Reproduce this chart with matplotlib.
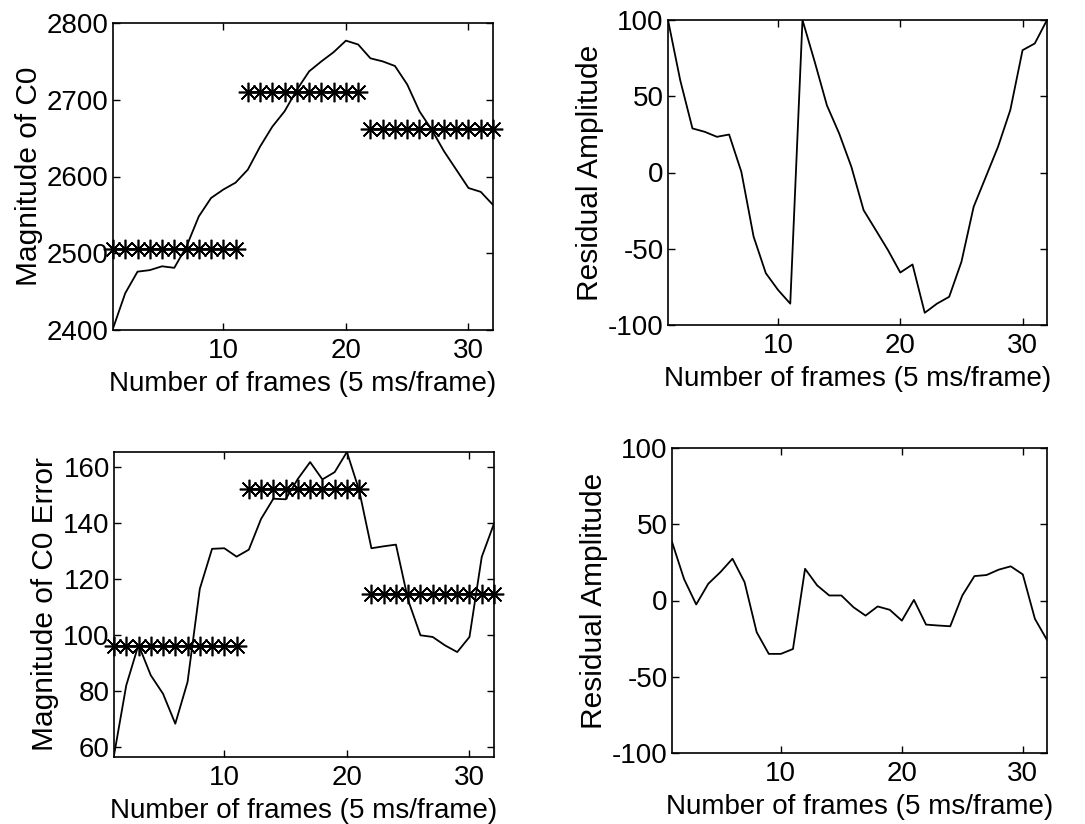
import numpy as np
import matplotlib
matplotlib.use('Agg')
import matplotlib.pyplot as plt

plt.rcParams['font.family'] = ['Liberation Sans', 'DejaVu Sans']
plt.rcParams['axes.unicode_minus'] = False

frames = np.arange(1, 33)

# C0 magnitude and its segment means
c0 = [2402, 2448, 2476, 2478, 2483, 2481, 2509, 2548, 2572, 2583, 2592,
      2609, 2639, 2665, 2685, 2713, 2737, 2750, 2762, 2777, 2772,
      2754, 2750, 2744, 2720, 2685, 2661, 2633, 2609, 2585, 2580, 2563]
c0_means = [2505, 2710, 2662]

# residual of C0
res1 = [100, 60.5, 28.9, 26.7, 23.4, 24.9, 0.4, -42, -66, -77, -86,
        100, 72.6, 44, 25.6, 3.7, -24.7, -37.8, -51, -65.6, -60.3,
        -92, -86, -81.5, -58.6, -22.5, -2.8, 17, 41, 80.2, 84.6, 100]

# C0 error magnitude and its segment means
c0err = [57, 82, 96.5, 85.6, 79, 68.3, 83.2, 116.5, 130.8, 131, 128,
         130.5, 141.5, 148.7, 148.5, 155.8, 161.8, 155.6, 158.2, 165.4, 151.7,
         131, 131.7, 132.3, 112.4, 99.9, 99.3, 96.3, 93.9, 99.3, 127.9, 139.8]
c0err_means = [96, 152, 114.8]

# residual of C0 error
res2 = [38.4, 14, -2.6, 11, 18.6, 27.4, 12, -20.8, -35, -35, -31.8,
        20.8, 9.9, 3.3, 3.3, -4.4, -9.9, -3.9, -6.1, -13.2, 0.4,
        -15.8, -16.4, -16.9, 3.3, 16, 16.7, 20.2, 22.4, 17.1, -12, -25.9]

segments = [(1, 11), (12, 21), (22, 32)]

W, H = 1085, 824
fig = plt.figure(figsize=(W / 100, H / 100), dpi=100)

def box(l, r, t, b):
    return [l / W, 1 - b / H, (r - l) / W, (b - t) / H]

ax1 = fig.add_axes(box(113, 493, 23, 330))
ax2 = fig.add_axes(box(668, 1047, 20, 325))
ax3 = fig.add_axes(box(114, 494, 452, 757))
ax4 = fig.add_axes(box(672, 1047, 448, 753))

star = (8, 2, 0)

def style(ax, ylabel):
    ax.set_xlim(1, 32)
    ax.set_xticks([10, 20, 30])
    ax.tick_params(direction='in', top=True, right=True, labelsize=20,
                   length=5, width=1, pad=3)
    ax.tick_params(axis='x', pad=6)
    ax.set_xlabel('Number of frames (5 ms/frame)', fontsize=20, labelpad=5)
    ax.set_ylabel(ylabel, fontsize=21.5, labelpad=3)
    for s in ax.spines.values():
        s.set_linewidth(1.2)

def draw_means(ax, means):
    for (a, b), m in zip(segments, means):
        xs = np.arange(a, b + 1)
        ax.plot(xs, [m] * len(xs), '-', color='black', lw=1.2,
                marker=star, markersize=14, mew=1.2, clip_on=False)

ax1.plot(frames, c0, color='black', lw=1.3)
draw_means(ax1, c0_means)
ax1.set_ylim(2400, 2800)
ax1.set_yticks([2400, 2500, 2600, 2700, 2800])
style(ax1, 'Magnitude of C0')

ax2.plot(frames, res1, color='black', lw=1.3)
ax2.set_ylim(-100, 100)
ax2.set_yticks([-100, -50, 0, 50, 100])
style(ax2, 'Residual Amplitude')

ax3.plot(frames, c0err, color='black', lw=1.3)
draw_means(ax3, c0err_means)
ax3.set_ylim(56.4, 165.4)
ax3.set_yticks([60, 80, 100, 120, 140, 160])
style(ax3, 'Magnitude of C0 Error')

ax4.plot(frames, res2, color='black', lw=1.3)
ax4.set_ylim(-100, 100)
ax4.set_yticks([-100, -50, 0, 50, 100])
style(ax4, 'Residual Amplitude')

fig.savefig('out.png', dpi=100)
